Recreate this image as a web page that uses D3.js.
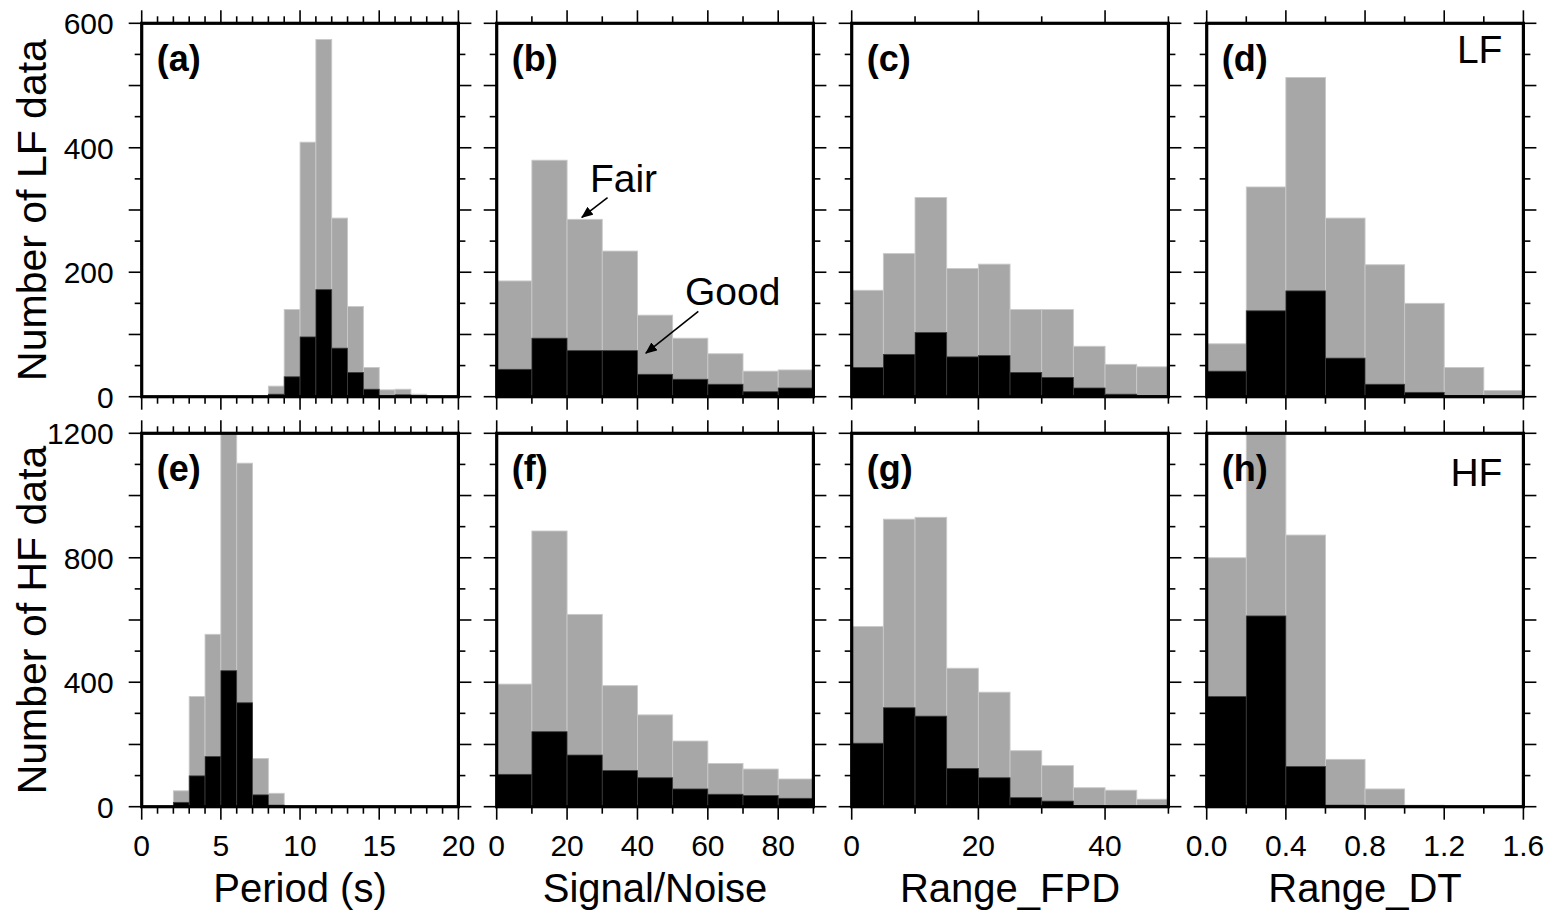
<!DOCTYPE html>
<html><head><meta charset="utf-8">
<script src="https://cdn.jsdelivr.net/npm/d3@7"></script>
<style>
body{margin:0;background:#fff}
svg{display:block}
text{font-family:"Liberation Sans",Arial,Helvetica,sans-serif;fill:#000}
</style>
</head><body>
<svg id="chart" width="1551" height="920"></svg>
<script>
// ---------------- DATA ----------------
const periodBins = [0,1,2,3,4,5,6,7,8,9,10,11,12,13,14,15,16,17,18,19];
const snrBins    = [0,10,20,30,40,50,60,70,80];
const fpdBins    = [0,5,10,15,20,25,30,35,40,45];
const dtBins     = [0,0.2,0.4,0.6,0.8,1.0,1.2,1.4];

const lfPeriodAll  = [0,0,0,0,0,0,0,0,17,140,409,574,287,145,47,11,12,4,0,0];
const lfPeriodGood = [0,0,0,0,0,0,0,0,4,32,96,172,78,39,12,1,3,1,0,0];
const lfSnrAll     = [186,380,285,234,131,94,69,41,43];
const lfSnrGood    = [44,94,74,74,36,28,20,8,14];
const lfFpdAll     = [171,230,320,206,213,140,140,81,52,48];
const lfFpdGood    = [47,68,103,64,66,39,31,14,4,2];
const lfDtAll      = [85,337,513,287,212,150,47,10];
const lfDtGood     = [41,138,170,62,20,7,2,0];

const hfPeriodAll  = [0,0,51,354,554,1200,1104,155,43,3,0,0,2,0,0,0,0,0,0,0];
const hfPeriodGood = [0,0,14,99,161,437,334,38,5,0,0,0,0,0,0,0,0,0,0,0];
const hfSnrAll     = [394,886,618,389,295,211,139,121,89];
const hfSnrGood    = [104,241,166,116,93,57,40,36,27];
const hfFpdAll     = [579,924,930,445,368,180,132,61,53,24];
const hfFpdGood    = [204,318,291,123,93,29,18,3,2,0];
const hfDtAll      = [800,1200,873,152,57,5,0,0];
const hfDtGood     = [354,613,129,5,2,0,0,0];

const periodTicks = [0,5,10,15,20];
const snrTicks    = [0,20,40,60,80];
const fpdTicks    = [0,20,40];
const dtTicks     = [0,0.4,0.8,1.2,1.6];
const dtTickText  = ["0.0","0.4","0.8","1.2","1.6"];

const lfYTicks = [0,200,400,600];
const hfYTicks = [0,400,800,1200];

const xTitles = ["Period (s)","Signal/Noise","Range_FPD","Range_DT"];
const yTitles = ["Number of LF data","Number of HF data"];
const panelLetters = [["(a)","(b)","(c)","(d)"],["(e)","(f)","(g)","(h)"]];
const rowTags = ["LF","HF"];

// ---------------- LAYOUT ----------------
const svg = d3.select("#chart");
const colX0 = [141.7, 496.7, 851.7, 1206.7];
const PW = 316.7;
const rowY0 = [23.3, 433.3];
const PH = 373.4;
const GRAY = "#a7a7a7";
const LONG = 13, SHORT = 7;

const cols = [
  {bins: periodBins, bw: 1,   dom:[0,20],  labels: periodTicks, labelText: periodTicks.map(String), minor: 1},
  {bins: snrBins,    bw: 10,  dom:[0,90],  labels: snrTicks,    labelText: snrTicks.map(String),    minor: 10},
  {bins: fpdBins,    bw: 5,   dom:[0,50],  labels: fpdTicks,    labelText: fpdTicks.map(String),    minor: 10},
  {bins: dtBins,     bw: 0.2, dom:[0,1.6], labels: dtTicks,     labelText: dtTickText,              minor: 0.2}
];
const rows = [
  {dom:[0,600],  labels: lfYTicks, long: 100, short: 50,
   all:[lfPeriodAll,lfSnrAll,lfFpdAll,lfDtAll], good:[lfPeriodGood,lfSnrGood,lfFpdGood,lfDtGood]},
  {dom:[0,1200], labels: hfYTicks, long: 200, short: 100,
   all:[hfPeriodAll,hfSnrAll,hfFpdAll,hfDtAll], good:[hfPeriodGood,hfSnrGood,hfFpdGood,hfDtGood]}
];

function steps(dom, step){
  const n = Math.round((dom[1]-dom[0])/step);
  return d3.range(n+1).map(i => +(dom[0]+i*step).toFixed(6));
}

const defs = svg.append("defs");
defs.append("marker").attr("id","arrow").attr("viewBox","0 0 12 10")
  .attr("refX",11).attr("refY",5).attr("markerWidth",12).attr("markerHeight",10)
  .attr("markerUnits","userSpaceOnUse").attr("orient","auto")
  .append("path").attr("d","M0,0 L12,5 L0,10 Z").attr("fill","#000");

rows.forEach((row, ri) => {
  cols.forEach((col, ci) => {
    const x0 = colX0[ci], y0 = rowY0[ri];
    const x = d3.scaleLinear().domain(col.dom).range([x0, x0+PW]);
    const y = d3.scaleLinear().domain(row.dom).range([y0+PH, y0]);
    const g = svg.append("g");
    const cid = "clip"+ri+ci;
    defs.append("clipPath").attr("id",cid).append("rect")
      .attr("x",x0).attr("y",y0).attr("width",PW).attr("height",PH);
    const bars = g.append("g").attr("clip-path","url(#"+cid+")");
    const allV = row.all[ci], goodV = row.good[ci];
    const dAll = col.bins.map((b,i)=>({b, v: allV[i]})).filter(d=>d.v>0);
    const dGood = col.bins.map((b,i)=>({b, v: goodV[i]})).filter(d=>d.v>0);
    bars.selectAll("rect.all").data(dAll).join("rect").attr("class","all")
      .attr("x",d=>x(d.b)).attr("width",d=>x(d.b+col.bw)-x(d.b))
      .attr("y",d=>y(Math.min(d.v,row.dom[1]))).attr("height",d=>y(0)-y(Math.min(d.v,row.dom[1])))
      .attr("fill",GRAY).attr("stroke","#c9c9c9").attr("stroke-width",0.9);
    bars.selectAll("rect.good").data(dGood).join("rect").attr("class","good")
      .attr("x",d=>x(d.b)).attr("width",d=>x(d.b+col.bw)-x(d.b))
      .attr("y",d=>y(d.v)).attr("height",d=>y(0)-y(d.v))
      .attr("fill","#000").attr("stroke","#3c3c3c").attr("stroke-width",0.8);

    // ticks on all four sides
    const tk = g.append("g").attr("stroke","#000").attr("stroke-width",1.6);
    const xLong = col.labels, xShort = steps(col.dom, col.minor).filter(v=>!xLong.some(l=>Math.abs(l-v)<1e-6));
    [[xLong,LONG],[xShort,SHORT]].forEach(([vals,len])=>{
      vals.forEach(v=>{
        tk.append("line").attr("x1",x(v)).attr("x2",x(v)).attr("y1",y0+PH).attr("y2",y0+PH+len);
        tk.append("line").attr("x1",x(v)).attr("x2",x(v)).attr("y1",y0).attr("y2",y0-len);
      });
    });
    const yLong = steps(row.dom, row.long);
    const yShort = steps(row.dom, row.short).filter(v=>!yLong.some(l=>Math.abs(l-v)<1e-6));
    [[yLong,LONG],[yShort,SHORT]].forEach(([vals,len])=>{
      vals.forEach(v=>{
        tk.append("line").attr("y1",y(v)).attr("y2",y(v)).attr("x1",x0).attr("x2",x0-len);
        tk.append("line").attr("y1",y(v)).attr("y2",y(v)).attr("x1",x0+PW).attr("x2",x0+PW+len);
      });
    });

    // frame
    g.append("rect").attr("x",x0).attr("y",y0).attr("width",PW).attr("height",PH)
      .attr("fill","none").attr("stroke","#000").attr("stroke-width",3.2);

    // y labels (left column)
    if (ci===0){
      g.selectAll("text.yl").data(row.labels).join("text").attr("class","yl")
        .attr("x",x0-28).attr("y",d=>y(d)).attr("dy","0.36em")
        .attr("text-anchor","end").attr("font-size",30).text(d=>d);
      svg.append("text").attr("transform",`translate(46,${y0+PH/2}) rotate(-90)`)
        .attr("text-anchor","middle").attr("font-size",41).text(yTitles[ri]);
    }
    // x labels (bottom row)
    if (ri===1){
      g.selectAll("text.xl").data(col.labels).join("text").attr("class","xl")
        .attr("x",d=>x(d)).attr("y",y0+PH+49).attr("text-anchor","middle")
        .attr("font-size",30).text((d,i)=>col.labelText[i]);
      svg.append("text").attr("x",x0+PW/2).attr("y",902).attr("text-anchor","middle")
        .attr("font-size",40).text(xTitles[ci]);
    }
    // panel letter
    g.append("text").attr("x",x0+15).attr("y",y0+48).attr("font-size",36)
      .attr("font-weight","bold").text(panelLetters[ri][ci]);
    if (ci===3){
      g.append("text").attr("x",x0+PW-21).attr("y",y0+(ri===0?40:53)).attr("text-anchor","end")
        .attr("font-size",39).text(rowTags[ri]);
    }
    // annotations on (b)
    if (ri===0 && ci===1){
      g.append("text").attr("x",x(26.5)).attr("y",y(329)).attr("font-size",39).text("Fair");
      g.append("line").attr("x1",x(31.5)).attr("y1",y(320)).attr("x2",x(24.2)).attr("y2",y(288))
        .attr("stroke","#000").attr("stroke-width",1.6).attr("marker-end","url(#arrow)");
      g.append("text").attr("x",x(53.5)).attr("y",y(147)).attr("font-size",39).text("Good");
      g.append("line").attr("x1",x(57.3)).attr("y1",y(137)).attr("x2",x(42.4)).attr("y2",y(70))
        .attr("stroke","#000").attr("stroke-width",1.6).attr("marker-end","url(#arrow)");
    }
  });
});
</script>
</body></html>
